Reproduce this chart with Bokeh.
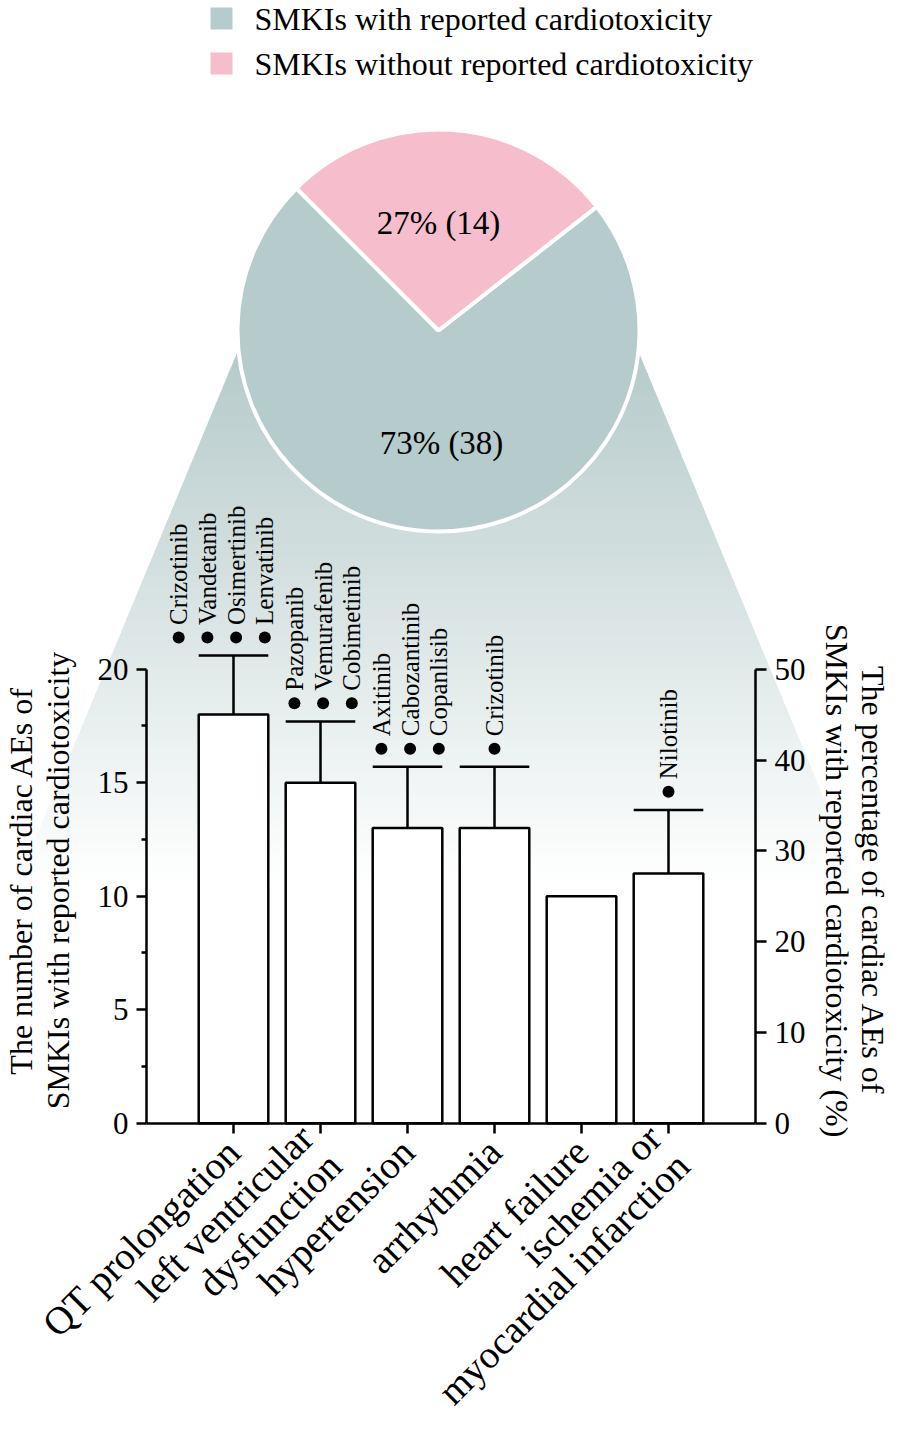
import math
from bokeh.plotting import figure
from bokeh.models import Range1d, LinearAxis, FixedTicker, Grid
from bokeh.core.properties import value
from bokeh.embed import file_html
from bokeh.resources import INLINE

# ---------------- data ----------------
categories = ["QT prolongation", "left ventricular\ndysfunction", "hypertension",
              "arrhythmia", "heart failure", "ischemia or\nmyocardial infarction"]
ae_counts = [18, 15, 13, 13, 10, 11]
ae_error_top = [20.6, 17.7, 15.7, 15.7, float("nan"), 13.8]
drug_names = [["Crizotinib", "Vandetanib", "Osimertinib", "Lenvatinib"],
              ["Pazopanib", "Vemurafenib", "Cobimetinib"],
              ["Axitinib", "Cabozantinib", "Copanlisib"],
              ["Crizotinib"],
              [],
              ["Nilotinib"]]
pie_groups = ["SMKIs with reported cardiotoxicity", "SMKIs without reported cardiotoxicity"]
pie_counts = [38, 14]
left_ticks = [0, 5, 10, 15, 20]
left_minor_ticks = [2.5, 7.5, 12.5, 17.5]
right_ticks = [0, 10, 20, 30, 40, 50]
left_title = ["The number of cardiac AEs of", "SMKIs with reported cardiotoxicity"]
right_title = ["The percentage of cardiac AEs of", "SMKIs with reported cardiotoxicity (%)"]

# ---------------- style / layout ----------------
FONT = "Liberation Serif"
GRAY = "#b6cbcb"
PINK = "#f6bdcd"
W, H = 893, 1426
X0_PX, UNIT_X = 146.0, 87.0      # px of x=0, px per category
Y0_PX, UNIT_Y = 1122.7, 22.7     # px of y=0, px per count


def dx(px):
    return (px - X0_PX) / UNIT_X


def dy(py):
    return (Y0_PX - py) / UNIT_Y


PCT = 2.5  # right axis scale factor (20 counts <-> 50 %)

p = figure(width=W, height=H,
           x_range=Range1d(dx(0), dx(W)), y_range=Range1d(dy(H), dy(0)),
           x_axis_location=None, y_axis_location=None,
           toolbar_location=None, output_backend="svg", min_border=0,
           outline_line_color=None, background_fill_color="white")
p.extra_y_ranges = {"pct": Range1d(dy(H) * PCT, dy(0) * PCT)}

# ---------------- gradient funnel ----------------
g_top, g_bot, g_white = 348.0, 900.0, 885.0
c0 = (183, 203, 203)
n = 90


def left_edge(y):
    return 233.3 - 0.415 * (y - 360.0)


def right_edge(y):
    return 641.7 + 0.415 * (y - 360.0)


gx, gy, gc = [], [], []
for i in range(n):
    a = g_top + (g_bot - g_top) * i / n
    b = g_top + (g_bot - g_top) * (i + 1) / n + 1.0
    f = min(1.0, max(0.0, ((a + b) / 2 - 360.0) / (g_white - 360.0)))
    col = tuple(int(round(c + (255 - c) * f)) for c in c0)
    gx.append([dx(left_edge(a)), dx(right_edge(a)), dx(right_edge(b)), dx(left_edge(b))])
    gy.append([dy(a), dy(a), dy(b), dy(b)])
    gc.append("#%02x%02x%02x" % col)
p.patches(gx, gy, fill_color=gc, line_color=None)

# ---------------- pie ----------------
total = sum(pie_counts)
cx, cy = dx(438), dy(330)
span_pink = 2 * math.pi * pie_counts[1] / total
mid = math.radians(86.5)
pink_start, pink_end = mid - span_pink / 2, mid + span_pink / 2
p.wedge(x=[cx, cx], y=[cy, cy], radius=201, radius_units="screen",
        start_angle=[pink_end, pink_start], end_angle=[pink_start + 2 * math.pi, pink_end],
        fill_color=[GRAY, PINK], line_color="white", line_width=4)
pie_texts = ["%d%% (%d)" % (round(100 * c / total), c) for c in pie_counts]
p.text(x=[dx(441), dx(438)], y=[dy(442), dy(222)], text=pie_texts,
       text_font=value(FONT), text_font_size="33px", text_align="center",
       text_baseline="middle", text_color="black")

# ---------------- legend (top) ----------------
leg_y = [dy(18), dy(63)]
p.scatter(x=[dx(221)] * 2, y=leg_y, marker="square", size=22,
          fill_color=[GRAY, PINK], line_color=None)
p.text(x=[dx(254)] * 2, y=leg_y, text=pie_groups, text_font=value(FONT),
       text_font_size="32px", text_align="left", text_baseline="middle",
       text_color="black")

# ---------------- bars ----------------
pos = [i + 1 for i in range(len(categories))]
BW = 0.8
p.vbar(x=pos, top=ae_counts, bottom=0, width=BW, fill_color="white",
       line_color="black", line_width=2.5)

ex = [x for x, e in zip(pos, ae_error_top) if not math.isnan(e)]
eb = [c for c, e in zip(ae_counts, ae_error_top) if not math.isnan(e)]
et = [e for e in ae_error_top if not math.isnan(e)]
p.segment(x0=ex, y0=eb, x1=ex, y1=et, line_color="black", line_width=2.5)
p.segment(x0=[x - BW / 2 for x in ex], y0=et, x1=[x + BW / 2 for x in ex], y1=et,
          line_color="black", line_width=2.5)

# dots + drug names (groups right-anchored over each bar)
DOT_SP = 0.33
DOT_RIGHT = 0.36
dxs, dys, names = [], [], []
for x, e, drugs in zip(pos, ae_error_top, drug_names):
    k = len(drugs)
    for j, d in enumerate(drugs):
        off = 0.0 if k == 1 else DOT_RIGHT - (k - 1 - j) * DOT_SP
        dxs.append(x + off)
        dys.append(e + 0.8)
        names.append(d)
p.scatter(x=dxs, y=dys, marker="circle", size=12, fill_color="black", line_color=None)
p.text(x=dxs, y=[v + 0.55 for v in dys], text=names, angle=math.pi / 2,
       text_font=value(FONT), text_font_size="25px", text_align="left",
       text_baseline="middle", text_color="black")

# ---------------- axes ----------------
def style(ax, size):
    ax.axis_line_width = 2.5
    ax.axis_line_color = "black"
    ax.major_tick_line_width = 2.5
    ax.minor_tick_line_width = 2.5
    ax.major_tick_in = 0
    ax.minor_tick_in = 0
    ax.major_label_text_font = FONT
    ax.major_label_text_font_size = size
    ax.major_label_text_color = "black"


xax = LinearAxis(fixed_location=0, bounds=(0, len(categories) + 1),
                 ticker=FixedTicker(ticks=pos, minor_ticks=[]),
                 major_label_overrides={x: c for x, c in zip(pos, categories)})
style(xax, "39px")
xax.major_tick_out = 10
xax.major_label_orientation = math.pi / 4
xax.major_label_standoff = 12
xax.major_label_text_line_height = 0.92
p.add_layout(xax, "below")

lax = LinearAxis(fixed_location=0, bounds=(0, 20),
                 ticker=FixedTicker(ticks=left_ticks, minor_ticks=left_minor_ticks))
style(lax, "31px")
lax.major_tick_out = 10
lax.minor_tick_out = 5
lax.major_label_standoff = 8
p.add_layout(lax, "left")

rax = LinearAxis(fixed_location=len(categories) + 1, y_range_name="pct", bounds=(0, 50),
                 ticker=FixedTicker(ticks=right_ticks, minor_ticks=[]))
style(rax, "31px")
rax.major_tick_out = 11
rax.minor_tick_out = 0
rax.major_label_standoff = 8
p.add_layout(rax, "right")

# no grid lines
p.center = [r for r in p.center if not isinstance(r, Grid)]

# axis titles
p.text(x=[dx(20), dx(57)], y=[dy(880), dy(880)], text=left_title, angle=math.pi / 2,
       text_font=value(FONT), text_font_size="32px", text_align="center",
       text_baseline="alphabetic", text_color="black")
p.text(x=[dx(872), dx(836)], y=[dy(880), dy(880)], text=right_title, angle=-math.pi / 2,
       text_font=value(FONT), text_font_size="32px", text_align="center",
       text_baseline="alphabetic", text_color="black")

open("out.html", "w").write(file_html(p, INLINE))
